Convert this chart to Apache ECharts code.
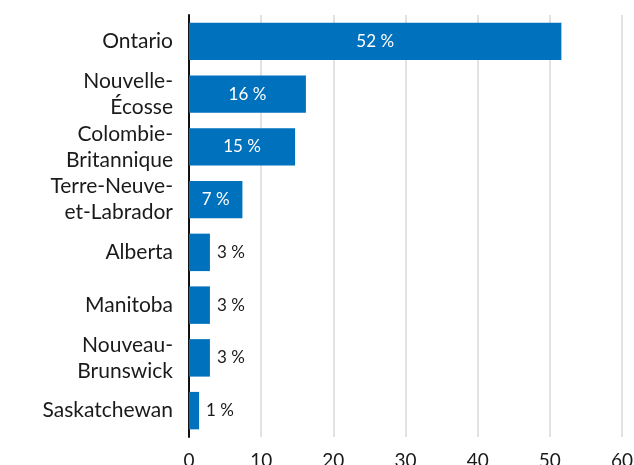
<!DOCTYPE html>
<html>
<head>
<meta charset="utf-8">
<script src="https://cdn.jsdelivr.net/npm/echarts@6/dist/echarts.min.js"></script>
<style>html,body{margin:0;padding:0;background:#fff;}#c{width:634px;height:465px;}</style>
</head>
<body>
<div id="c"></div>
<script>
const categories = ["Ontario", "Nouvelle-\nÉcosse", "Colombie-\nBritannique", "Terre-Neuve-\net-Labrador", "Alberta", "Manitoba", "Nouveau-\nBrunswick", "Saskatchewan"];
const values = [51.6, 16.2, 14.7, 7.4, 2.9, 2.9, 2.9, 1.4];
const xTicks = [0, 10, 20, 30, 40, 50, 60];

const chart = echarts.init(document.getElementById('c'));
const font = 'Lato, "Open Sans", sans-serif';
chart.setOption({
  animation: false,
  grid: { left: 189, right: 12, top: 15, bottom: 28, containLabel: false, outerBoundsMode: 'none' },
  xAxis: {
    type: 'value', min: xTicks[0], max: xTicks[xTicks.length - 1], interval: 10,
    axisLine: { show: false }, axisTick: { show: false },
    axisLabel: { margin: 14, fontSize: 19, color: '#1a1a1a', fontFamily: font },
    splitLine: { lineStyle: { color: '#d9d9d9', width: 1.5 } }
  },
  yAxis: {
    type: 'category', data: categories, inverse: true,
    axisLine: { show: true, lineStyle: { color: '#111', width: 2 } },
    axisTick: { show: false },
    axisLabel: { margin: 16, fontSize: 21, color: '#1a1a1a', fontFamily: font, lineHeight: 26, align: 'right', padding: [6, 0, 0, 0] }
  },
  series: [{
    type: 'bar',
    data: values.map(v => ({
      value: v,
      label: v >= 5
        ? { show: true, position: 'inside', color: '#fff' }
        : { show: true, position: 'right', color: '#1a1a1a', distance: 7 }
    })),
    barCategoryGap: '29%',
    itemStyle: { color: '#0071bc' },
    label: {
      fontSize: 17, fontFamily: font,
      formatter: p => Math.round(p.value) + ' %'
    }
  }]
});
</script>
</body>
</html>
